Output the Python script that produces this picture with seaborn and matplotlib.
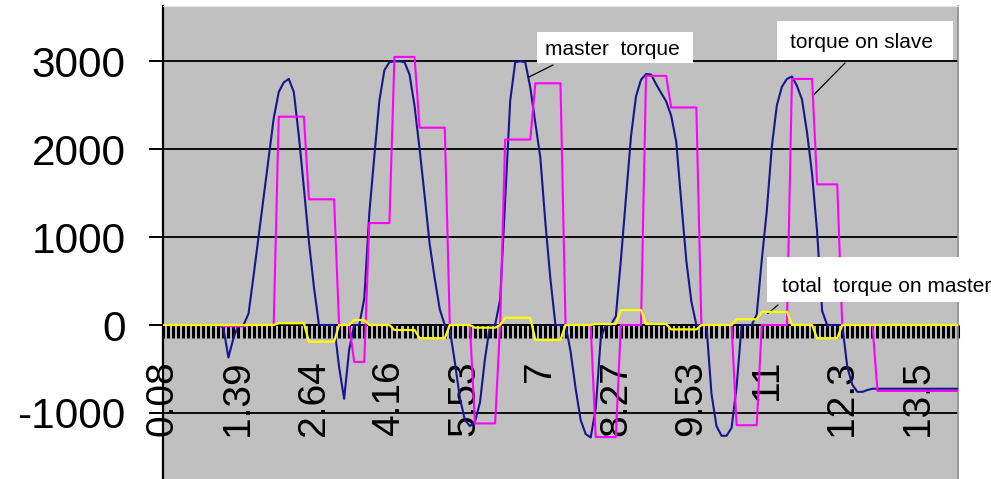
import numpy as np
import pandas as pd
import matplotlib
matplotlib.use("Agg")
import matplotlib.pyplot as plt
from matplotlib.patches import Rectangle
import seaborn as sns

plt.rcParams["font.family"] = ["Liberation Sans", "DejaVu Sans"]

# Category-axis labels (time in s), one label every 15 samples
time_labels = ["0.08", "1.39", "2.64", "4.16", "5.53", "7", "8.27", "9.53", "11", "12.3", "13.5"]
label_every = 15

y_tick_values = [-1000, 0, 1000, 2000, 3000]
y_tick_labels = ["-1000", "0", "1000", "2000", "3000"]

# Torque on the master drive (one value per sample)
master_torque = [
    0, 0, 0, 0, 0, 0, 0, 0, 0, 0, 0, 0,
    -30, -370, -150, 0, 0, 130, 560, 1010, 1450, 1900, 2350, 2650, 2760, 2800,
    2650, 2150, 1560, 950, 430, 0, 0, 0, 0, -480, -840, -280, 0, 0,
    300, 1270, 1920, 2550, 2900, 2990, 3000, 3000, 2990, 2850,
    2490, 2000, 1470, 920, 530, 180, 0, -50, -420, -830,
    -1080, -1150, -1100, -880, -380, 0, 0, 285, 1430, 2550,
    2990, 3000, 2990, 2700, 2300, 1900, 1160, 520, 0, 0,
    0, -300, -720, -1080, -1240, -1280, -950, -150, 0, 0,
    100, 740, 1440, 2140, 2600, 2790, 2855, 2850, 2740, 2640,
    2545, 2380, 2085, 1400, 735, 270, 0, 0, 0, -780,
    -1150, -1260, -1260, -1170, -700, 0, 0, 0, 120, 740,
    1300, 2030, 2500, 2710, 2800, 2827, 2720, 2565, 2190, 1720,
    1060, 160, 0, 0, 0, 0, -480, -680, -760, -760,
    -740, -725, -725, -725, -725, -725, -725, -725, -725, -725,
    -725, -725, -725, -725, -725, -725, -725, -725, -725,
]

# Torque on the slave drive (stepped)
slave_torque = [
    0, 0, 0, 0, 0, 0, 0, 0, 0, 0, 0, 0,
    -15, -15, -15, -15, -15,
    0, 0, 0, 0, 0, 0,
    2370, 2370, 2370, 2370, 2370, 2370,
    1430, 1430, 1430, 1430, 1430, 1430,
    0, 0, 0,
    -420, -420, -420,
    1160, 1160, 1160, 1160, 1160,
    3050, 3050, 3050, 3050, 3050,
    2245, 2245, 2245, 2245, 2245, 2245,
    0, 0, 0, 0, 0,
    -1120, -1120, -1120, -1120, -1120,
    0,
    2110, 2110, 2110, 2110, 2110, 2110,
    2750, 2750, 2750, 2750, 2750, 2750,
    0, 0, 0, 0, 0, 0,
    -1275, -1275, -1275, -1275, -1275,
    0, 0, 0, 0, 0,
    2835, 2835, 2835, 2835, 2835,
    2475, 2475, 2475, 2475, 2475, 2475,
    0, 0, 0, 0, 0, 0, 0,
    -1140, -1140, -1140, -1140, -1140,
    0, 0, 0, 0, 0, 0,
    2800, 2800, 2800, 2800, 2800,
    1600, 1600, 1600, 1600, 1600,
    0, 0, 0, 0, 0, 0, 0,
    -750, -750, -750, -750, -750, -750, -750, -750, -750,
    -750, -750, -750, -750, -750, -750, -750, -750,
]

# Resulting total torque on the master drive (stepped)
total_master_torque = [
    0, 0, 0, 0, 0, 0, 0, 0, 0, 0, 0, 0, 0, 0, 0, 0, 0, 0, 0, 0, 0, 0, 0,
    20, 20, 20, 20, 20, 20,
    -190, -190, -190, -190, -190, -190,
    0, 0, 0,
    57, 57, 57,
    0, 0, 0, 0, 0,
    -57, -57, -57, -57, -57,
    -150, -150, -150, -150, -150, -150,
    0, 0, 0, 0, 0,
    -30, -30, -30, -30, -30,
    0,
    82, 82, 82, 82, 82, 82,
    -170, -170, -170, -170, -170, -170,
    0, 0, 0, 0, 0, 0,
    11, 11, 11, 11, 11,
    170, 170, 170, 170, 170,
    11, 11, 11, 11, 11,
    -50, -50, -50, -50, -50, -50,
    0, 0, 0, 0, 0, 0, 0,
    65, 65, 65, 65, 65,
    150, 150, 150, 150, 150, 150,
    0, 0, 0, 0, 0,
    -150, -150, -150, -150, -150,
    0, 0, 0, 0, 0, 0, 0, 0, 0, 0, 0, 0,
    0, 0, 0, 0, 0, 0, 0, 0, 0, 0, 0, 0,
]

n = len(master_torque)
df = pd.DataFrame({
    "sample": np.arange(n),
    "master": master_torque,
    "slave": slave_torque,
    "total": total_master_torque,
})

W, H = 991, 479
fig = plt.figure(figsize=(W / 100, H / 100), dpi=100)
ax = fig.add_axes([163 / W, 0, 795 / W, 1 - 5.5 / H])
ax.set_facecolor("#c0c0c0")

sns.lineplot(data=df, x="sample", y="master", ax=ax, color="#16168e", linewidth=1.5, zorder=3)
sns.lineplot(data=df, x="sample", y="slave", ax=ax, color="#ff00ff", linewidth=1.5, zorder=4)
sns.lineplot(data=df, x="sample", y="total", ax=ax, color="#ffff00", linewidth=1.6, zorder=5)

ax.set_xlim(0, n - 1)
ax.set_ylim(-1752, 3635)
ax.set_xlabel("")
ax.set_ylabel("")

# Category axis crossing at zero, a tick per sample, labels every 15 samples
ax.spines["bottom"].set_position(("data", 0))
ax.spines["bottom"].set_color("black")
ax.spines["bottom"].set_linewidth(1.2)
ax.spines["bottom"].set_zorder(1)
ax.spines["left"].set_color("black")
ax.spines["left"].set_linewidth(1.6)
ax.spines["top"].set_color("#e4e4e4")
ax.spines["right"].set_color("#8c8c8c")
ax.spines["right"].set_linewidth(1.2)

xlabels = [""] * n
for k, lab in enumerate(time_labels):
    xlabels[k * label_every] = lab
ax.set_xticks(np.arange(n))
ax.set_xticklabels(xlabels)
ax.tick_params(axis="x", direction="out", length=9.4, width=2.2, color="black",
               pad=15.8, labelsize=28, labelrotation=90)

ax.set_yticks(y_tick_values)
ax.set_yticklabels(y_tick_labels)
ax.tick_params(axis="y", direction="out", length=10, width=1.4, color="black",
               pad=17, labelsize=30.5)

ax.yaxis.grid(True, color="black", linewidth=1.3)
ax.xaxis.grid(False)
ax.set_axisbelow(True)


def fig_pt(px, py):
    return px / W, 1 - py / H


def label_box(x0, y0, x1, y1, tx, ty, text):
    fx, fy = fig_pt(x0, y1)
    fig.add_artist(Rectangle((fx, fy), (x1 - x0) / W, (y1 - y0) / H,
                             transform=fig.transFigure, facecolor="white",
                             edgecolor="none", zorder=5))
    fig.text(*fig_pt(tx, ty), text, fontsize=15, ha="left", va="baseline", zorder=6)


label_box(537, 32.5, 693, 63, 545, 55, "master  torque")
label_box(777, 21.5, 953, 60, 790, 48.5, "torque on slave")
label_box(767, 256.5, 991, 302, 782, 291.5, "total  torque on master")

leader = dict(arrowstyle="-", color="black", lw=0.9, shrinkA=0, shrinkB=0)
ax.annotate("", xy=(72.6, 2818), xycoords="data",
            xytext=fig_pt(553, 65), textcoords="figure fraction", arrowprops=leader)
ax.annotate("", xy=(129.3, 2617), xycoords="data",
            xytext=fig_pt(845, 63), textcoords="figure fraction", arrowprops=leader)
ax.annotate("", xy=(120.2, 131), xycoords="data",
            xytext=fig_pt(778, 305), textcoords="figure fraction", arrowprops=leader)

fig.savefig("out.png", dpi=100, facecolor="white")
